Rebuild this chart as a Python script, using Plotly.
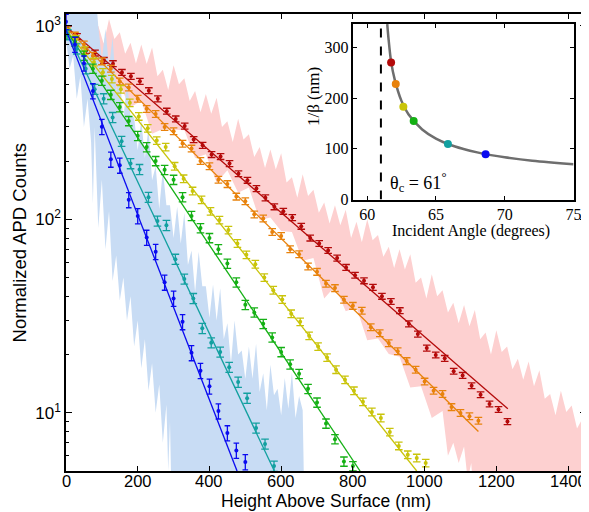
import math
import plotly.graph_objects as go

# ---------------- data ----------------
series_names = ["red", "orange", "yellow", "green", "teal", "blue"]
series_colors = ["#b40a0a", "#e8820c", "#c9c40a", "#14b014", "#12a0a0", "#0a0af0"]

red_x = [6, 31, 56, 81, 106, 131, 156, 181, 206, 231, 256, 281, 306, 331, 356, 381, 406, 431, 456, 481,
         506, 531, 556, 581, 606, 631, 656, 681, 706, 731, 756, 781, 806, 831, 856, 881, 906, 931, 956, 981,
         1006, 1031, 1056, 1081, 1106, 1131, 1156, 1181, 1206, 1231]
red_y = [962, 880, 746, 723, 662, 637, 574, 548, 516, 462, 419, 362, 330, 303, 258, 241, 216, 211, 194, 172,
         159, 144, 129, 116, 110, 102, 92, 80, 75, 69, 63, 56.4, 51.4, 48.1, 44.5, 40.0, 37.6, 33.7, 28.8, 25.5,
         21.6, 19.9, 19.1, 16.4, 15.6, 13.8, 12.4, 11.1, 10.4, 9.0]

orange_x = [0, 25, 50, 75, 100, 125, 150, 175, 200, 225, 250, 275, 300, 325, 350, 375, 400, 425, 450, 475,
            500, 525, 550, 575, 600, 625, 650, 675, 700, 725, 750, 775, 800, 825, 850, 875, 900, 925, 950, 975,
            1000, 1025, 1050, 1075, 1100, 1125, 1150]
orange_y = [960, 890, 800, 700, 655, 600, 515, 480, 420, 372, 350, 300, 285, 246, 232, 200, 188, 160, 152, 131,
            124, 106, 101, 86, 82, 70, 66, 57, 53.5, 46.5, 44.1, 38.4, 35.7, 33.7, 27.7, 25.8, 22.9, 20.8, 18.5, 16.7,
            14.5, 13.0, 12.5, 10.7, 9.97, 9.6, 9.1]

yellow_x = [3, 28, 53, 78, 103, 128, 153, 178, 203, 228, 253, 278, 303, 328, 353, 378, 403, 428, 453, 478,
            503, 528, 553, 578, 603, 628, 653, 678, 703, 728, 753, 778, 803, 828, 853, 878, 903, 928, 953, 978, 1003]
yellow_y = [930, 850, 745, 650, 575, 530, 470, 400, 340, 295, 255, 236, 188, 162, 140, 126, 110, 99, 88, 75,
            65.5, 58.6, 50, 43, 38.5, 32.5, 29.5, 25, 22, 19.3, 16.7, 14.8, 13.0, 11.4, 10.1, 9.4, 7.95, 6.74, 6.07, 5.84, 5.5]

green_x = [0, 25, 50, 75, 100, 125, 150, 175, 200, 225, 250, 275, 300, 325, 350, 375, 400, 425, 450, 475,
           500, 525, 550, 575, 600, 625, 650, 675, 700, 725, 750, 775, 800]
green_y = [900, 830, 700, 600, 520, 440, 380, 322, 270, 236, 200, 180, 160, 130, 104, 90, 80, 70, 59, 47.2,
           36.1, 33.0, 28.8, 24.5, 20.6, 17.8, 15.9, 13.3, 11.3, 8.8, 7.3, 5.6, 5.3]

teal_x = [5, 30, 55, 80, 105, 130, 155, 180, 205, 230, 255, 280, 305, 330, 355, 380, 405, 430, 455, 480,
          505, 530, 555, 580]
teal_y = [900, 760, 600, 470, 420, 336, 253, 194, 181, 130, 98, 93, 62.2, 49.1, 39.0, 27.3, 23.0, 20.6, 17.2, 14.4,
          11.9, 8.34, 6.9, 5.3]

blue_x = [0, 25, 50, 75, 100, 125, 150, 175, 200, 225, 250, 275, 300, 325, 350, 375, 400, 425, 450, 475, 500]
blue_y = [1050, 800, 640, 460, 301, 204, 190, 126, 104, 80.5, 68, 47.2, 39.0, 29.5, 20.4, 16.5, 13.7, 10.2, 7.86,
          6.39, 5.57]

series_err_pct = [3.5, 4, 4.5, 5.5, 6, 9]

# exponential fit lines: straight on the log axis, start and end
fit_x_start = [0, 0, 0, 0, 0, 0]
fit_x_end = [1232, 1150, 978, 820, 581, 477]
fit_y_start = [992, 975, 955, 950, 950, 950]
fit_y_end = [10.5, 8.0, 5.0, 5.0, 5.0, 5.0]

# raw (noisy) traces drawn as shaded bands: upper and lower edges
pink_upper_x = [0, 15, 30, 45, 60, 75, 90, 105, 120, 135, 150, 165, 180, 195, 210, 225, 240, 255, 270, 285,
                300, 315, 330, 345, 360, 375, 390, 405, 420, 435, 450, 465, 480, 495, 510, 525, 540, 555, 570, 585,
                600, 615, 630, 645, 660, 675, 690, 705, 720, 735, 750, 765, 780, 795, 810, 825, 840, 855, 870, 885,
                900, 915, 930, 945, 960, 975, 990, 1005, 1020, 1035, 1050, 1065, 1080, 1095, 1110, 1125, 1140, 1155,
                1170, 1185, 1200, 1215, 1230, 1245, 1260, 1275, 1290, 1305, 1320, 1335, 1350, 1365, 1380, 1395,
                1410, 1425, 1440, 1450]
pink_upper_y = [1290, 1016, 1285, 1028, 1262, 905, 1001, 808, 1084, 854, 925, 717, 818, 638, 800, 634, 771, 549, 593, 465,
                625, 499, 535, 409, 460, 357, 444, 351, 425, 300, 321, 251, 331, 258, 275, 210, 236, 184, 229, 181,
                219, 155, 165, 129, 171, 132, 142, 108, 122, 95, 118, 93, 112, 80, 97, 76, 100, 78, 83, 64,
                72, 56, 70, 55, 66, 47, 50, 39, 52, 40, 43, 33, 37, 29, 36, 28, 34, 24,
                26, 20, 26.7, 20.6, 22, 16.8, 19, 14.8, 18.4, 13.7, 16.6, 11.8, 12.5, 9.7, 13, 10.1,
                10.9, 8.3, 9.3, 8.0]
pink_lower_x = [0, 30, 60, 90, 120, 150, 180, 210, 240, 270, 300, 330, 360, 390, 420, 450, 480, 510, 540, 570,
                600, 630, 660, 690, 720, 750, 780, 810, 840, 870, 900, 930, 960, 990, 1020, 1050, 1065, 1080, 1095,
                1110, 1120, 1130, 1140, 1450]
pink_lower_y = [794, 796, 572, 596, 428, 489, 379, 410, 277, 293, 290, 288, 207, 217, 155, 179, 137, 146, 99, 102,
                87, 86, 61, 63, 39, 45, 33.5, 35, 23.7, 24.2, 20.1, 19.5, 13.5, 13.7, 9.4, 10.2, 6, 7.0, 5.5,
                6.7, 4.5, 5.5, 3, 3]

lblue_upper_x = [0, 8, 85, 90, 100, 110, 120, 130, 140, 150, 160, 170, 180, 190, 200, 210, 220, 230, 240, 250,
                 260, 270, 280, 290, 300, 310, 320, 330, 340, 350, 360, 370, 380, 390, 400, 410, 420, 430, 440, 450,
                 460, 470, 480, 490, 500, 510, 520, 530, 540, 550, 560, 570, 580, 590, 600, 610, 620, 630, 640, 650,
                 660, 665]
lblue_upper_y = [1000, 1300, 1300, 995, 670, 961, 610, 871, 462, 545, 326, 522, 338, 337, 227, 326, 207, 298, 159, 188,
                 113, 181, 118, 118, 80, 116, 75, 108, 58, 69, 42, 68, 45, 45, 31, 46, 30, 44, 24, 29,
                 18, 30, 20, 21, 15, 22, 15, 22.7, 12.8, 16, 10.3, 17.7, 12.3, 13.3, 9.7, 15.1, 10.5, 16.2, 9.4, 12.2,
                 10.3, 3]
lblue_lower_x = [0, 10, 20, 30, 40, 50, 60, 70, 75, 80, 90, 100, 110, 120, 130, 140, 150, 160, 170, 180,
                 190, 200, 210, 220, 230, 240, 250, 260, 270, 280, 285, 290, 295, 665]
lblue_lower_y = [850, 600, 700, 420, 550, 300, 420, 250, 120, 300, 90, 160, 70, 110, 48, 65, 38, 50, 30, 40,
                 22, 30, 17, 24, 13, 18, 10, 14, 7, 11, 5, 9, 3, 3]

x_tick_vals = [0, 200, 400, 600, 800, 1000, 1200, 1400]
x_tick_text = ["0", "200", "400", "600", "800", "1000", "1200", "1400"]
y_tick_vals = [10, 100, 1000]
y_tick_text = ["10<sup>1</sup>", "10<sup>2</sup>", "10<sup>3</sup>"]
y_minor_vals = [6, 7, 8, 9, 20, 30, 40, 50, 60, 70, 80, 90, 200, 300, 400, 500, 600, 700, 800, 900]

# inset data
theta_c = 61
inset_curve_angle = [61.46, 61.55, 61.74, 62.0, 62.5, 63.0, 64.0, 65.0, 66.0, 67.0, 68.0, 69.0, 70.0, 72.0, 75.0]
inset_curve_invbeta = [346, 318, 272, 237, 194, 168, 138, 120, 108, 99.7, 93, 87.6, 83.3, 76.6, 69.8]
inset_pts_angle = [61.74, 62.08, 62.63, 63.38, 65.87, 68.61]
inset_pts_invbeta = [270, 228, 183, 155, 109.5, 89.5]
inset_x_ticks = [60, 65, 70, 75]
inset_y_ticks = [0, 100, 200, 300]

# ---------------- figure ----------------
SANS = "Liberation Sans, Arial, sans-serif"
SERIF = "Liberation Serif, Times New Roman, serif"

fig = go.Figure()

fig.add_trace(go.Scatter(x=pink_upper_x + pink_lower_x[::-1], y=pink_upper_y + pink_lower_y[::-1],
                         mode="lines", fill="toself", fillcolor="#fdd0d0", line=dict(width=0, color="#fdd0d0"),
                         hoverinfo="skip", showlegend=False))
fig.add_trace(go.Scatter(x=lblue_upper_x + lblue_lower_x[::-1], y=lblue_upper_y + lblue_lower_y[::-1],
                         mode="lines", fill="toself", fillcolor="#c8dcf4", line=dict(width=0, color="#c8dcf4"),
                         hoverinfo="skip", showlegend=False))

xs = [red_x, orange_x, yellow_x, green_x, teal_x, blue_x]
ys = [red_y, orange_y, yellow_y, green_y, teal_y, blue_y]
for i, name in enumerate(series_names):
    c = series_colors[i]
    fig.add_trace(go.Scatter(x=[fit_x_start[i], fit_x_end[i]], y=[fit_y_start[i], fit_y_end[i]],
                             mode="lines", line=dict(color=c, width=1.3), showlegend=False, hoverinfo="skip"))
    fig.add_trace(go.Scatter(x=xs[i], y=ys[i], mode="markers", name=name,
                             marker=dict(color=c, size=4),
                             error_y=dict(type="percent", value=series_err_pct[i], color=c,
                                          thickness=1.3, width=3.8 if name != "blue" else 2.8),
                             showlegend=False))

# inset
fig.add_trace(go.Scatter(x=[theta_c, theta_c], y=[0, 346], mode="lines",
                         line=dict(color="black", width=2, dash="dash"),
                         xaxis="x2", yaxis="y2", showlegend=False, hoverinfo="skip"))
fig.add_trace(go.Scatter(x=inset_curve_angle, y=inset_curve_invbeta, mode="lines",
                         line=dict(color="#6e6e6e", width=2.5, shape="spline"),
                         xaxis="x2", yaxis="y2", showlegend=False))
fig.add_trace(go.Scatter(x=inset_pts_angle, y=inset_pts_invbeta, mode="markers",
                         marker=dict(color=series_colors, size=8),
                         xaxis="x2", yaxis="y2", showlegend=False))

axis_common = dict(showgrid=False, zeroline=False, showline=True, linecolor="black",
                   mirror="ticks", ticks="inside", tickcolor="black", automargin=False)

# main x tick labels placed as text just under the axis (tighter than plotly's default gap)
x_label_annotations = [
    dict(text=t, x=v, xref="x", y=-0.022, yref="paper", xanchor="center", yanchor="middle",
         showarrow=False, font=dict(size=16.5, family=SANS))
    for v, t in zip(x_tick_vals, x_tick_text)
]

# the page body adds an 8 px margin, so the figure is 8 px smaller than the window
fig.update_layout(
    width=581, height=504,
    margin=dict(l=58, r=3, t=6, b=41, autoexpand=False),
    paper_bgcolor="white", plot_bgcolor="white",
    font=dict(family=SANS, color="black"),
    showlegend=False,
    xaxis=dict(range=[0, 1450], tickvals=x_tick_vals, showticklabels=False, ticklen=5,
               linewidth=1.5, tickwidth=1, **axis_common),
    yaxis=dict(type="log", range=[math.log10(5), math.log10(1150)], tickvals=y_tick_vals,
               ticktext=y_tick_text, ticklen=6, linewidth=1.5, tickwidth=1,
               tickfont=dict(size=17, family=SANS),
               minor=dict(tickvals=y_minor_vals, ticks="inside", ticklen=3, tickcolor="black"),
               **axis_common),
    xaxis2=dict(domain=[0.5527, 0.976], anchor="y2", range=[59, 75], tickvals=inset_x_ticks,
                ticklen=4, linewidth=1.5, tickfont=dict(size=16, family=SERIF), **axis_common),
    yaxis2=dict(domain=[0.594, 0.978], anchor="x2", range=[0, 346], tickvals=inset_y_ticks,
                ticklen=4, linewidth=1.5, tickfont=dict(size=16, family=SERIF), **axis_common),
    annotations=x_label_annotations + [
        dict(text="Height Above Surface (nm)", xref="paper", yref="paper", x=0.5, y=-0.066,
             xanchor="center", yanchor="middle", showarrow=False, font=dict(size=17.5, family=SANS)),
        dict(text="Normalized APD Counts", xref="paper", yref="paper", x=-0.0885, y=0.5,
             xanchor="center", yanchor="middle", textangle=-90, showarrow=False,
             font=dict(size=18.5, family=SANS)),
        dict(text="Incident Angle (degrees)", xref="paper", yref="paper", x=0.779, y=0.525,
             xanchor="center", yanchor="middle", showarrow=False, font=dict(size=16, family=SERIF)),
        dict(text="1/β (nm)", xref="paper", yref="paper", x=0.4756, y=0.819,
             xanchor="center", yanchor="middle", textangle=-90, showarrow=False,
             font=dict(size=17, family=SERIF)),
        dict(text="θ<sub>c</sub> = 61<sup>°</sup>", xref="x2", yref="y2", x=61.55, y=33,
             xanchor="left", yanchor="middle", showarrow=False, font=dict(size=18, family=SERIF)),
    ],
)

fig.write_html("out.html")
